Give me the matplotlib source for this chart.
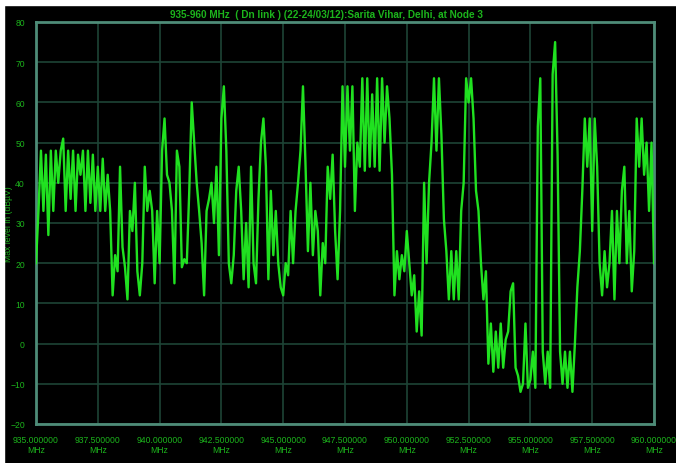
import matplotlib.pyplot as plt
import numpy as np
from matplotlib.patches import Rectangle

# Sweep 935-960 MHz, one reading every 0.1 MHz
freq_start = 935.0
freq_step = 0.1
level = [
    20, 33, 48, 33, 47, 27, 48, 33, 48, 40,   # 935
    48, 51, 33, 48, 36, 48, 33, 47, 42, 48,   # 936
    33, 48, 35, 47, 33, 44, 33, 46, 33, 42,   # 937
    33, 12, 22, 18, 44, 24, 19, 11, 33, 28,   # 938
    40, 18, 12, 20, 44, 33, 38, 33, 15, 33,   # 939
    20, 48, 56, 42, 40, 33, 15, 48, 44, 19,   # 940
    21, 20, 38, 60, 50, 40, 33, 25, 12, 33,   # 941
    36, 40, 30, 44, 22, 56, 64, 48, 20, 15,   # 942
    22, 38, 44, 33, 16, 30, 14, 44, 20, 15,   # 943
    36, 50, 56, 44, 16, 38, 22, 33, 20, 14,   # 944
    12, 20, 17, 33, 20, 33, 40, 48, 64, 45,   # 945
    23, 40, 22, 33, 28, 12, 25, 20, 44, 36,   # 946
    47, 28, 16, 33, 64, 44, 64, 48, 64, 33,   # 947
    50, 44, 66, 43, 66, 44, 62, 44, 66, 43,   # 948
    66, 50, 64, 56, 42, 12, 23, 16, 22, 18,   # 949
    28, 20, 12, 17, 3, 13, 2, 40, 20, 40,     # 950
    50, 66, 48, 66, 52, 31, 23, 11, 23, 11,   # 951
    23, 11, 33, 40, 66, 60, 66, 56, 38, 33,   # 952
    20, 11, 18, -5, 5, -7, 3, -6, 5, -6,      # 953
    1, 3, 13, 15, -6, -8, -12, -10, 5, -11,   # 954
    -9, -2, -11, 54, 66, -2, -10, -2, -11, 67,  # 955
    75, 47, -2, -10, -2, -11, -2, -12, 0, 14,   # 956
    23, 38, 56, 44, 56, 28, 56, 44, 20, 12,   # 957
    23, 14, 20, 33, 11, 33, 20, 38, 44, 20,   # 958
    33, 13, 23, 56, 44, 56, 42, 50, 33, 50,   # 959
    20,                                       # 960
]
freq = freq_start + freq_step * np.arange(len(level))

xticks = [935.0, 937.5, 940.0, 942.5, 945.0, 947.5, 950.0, 952.5, 955.0, 957.5, 960.0]
xtick_labels = [f"{t:.6f}\nMHz" for t in xticks]
yticks = [-20, -10, 0, 10, 20, 30, 40, 50, 60, 70, 80]

title = "935-960 MHz  ( Dn link ) (22-24/03/12):Sarita Vihar, Delhi, at Node 3"
ylabel = "Max level in (dB\u00b5V)"

text_green = "#1cb41c"
trace_green = "#22ee22"
grid_col = "#1d4436"
frame_col = "#4e8c78"

plt.rcParams["font.family"] = ["Liberation Sans", "DejaVu Sans"]

fig = plt.figure(figsize=(6.76, 4.64), dpi=100, facecolor="black")
ax = fig.add_axes([36 / 676, 1 - 425 / 464, 618 / 676, 402 / 464])
ax.set_facecolor("black")

ax.plot(freq, level, color=trace_green, lw=1.7, alpha=0.95, zorder=3)

ax.set_xlim(935, 960)
ax.set_ylim(-20, 80)
ax.set_xticks(xticks)
ax.set_xticklabels(xtick_labels, multialignment="center")
ax.set_yticks(yticks)
ax.tick_params(axis="both", colors=text_green, labelsize=6.2, length=0)
ax.tick_params(axis="x", pad=8)
ax.tick_params(axis="y", pad=8)
for lab in ax.get_xticklabels():
    lab.set_linespacing(1.15)

ax.grid(True, color=grid_col, lw=1.2, zorder=1)
for side in ax.spines.values():
    side.set_color(frame_col)
    side.set_linewidth(2)

ax.set_ylabel(ylabel, color=text_green, fontsize=6.2)
ax.yaxis.set_label_coords(-0.037, 0.5)

fig.text(326 / 676, 1 - 15 / 464, title, color=text_green, fontsize=7.2,
         fontweight="bold", ha="center", va="center")

# white strips along the top and left edge of the screenshot
fig.patches.append(Rectangle((0, 1 - 6 / 464), 1, 6 / 464, transform=fig.transFigure,
                             color="white", zorder=10))
fig.patches.append(Rectangle((0, 0), 4 / 676, 1, transform=fig.transFigure,
                             color="white", zorder=10))

fig.savefig("out.png", dpi=100, facecolor="black")
